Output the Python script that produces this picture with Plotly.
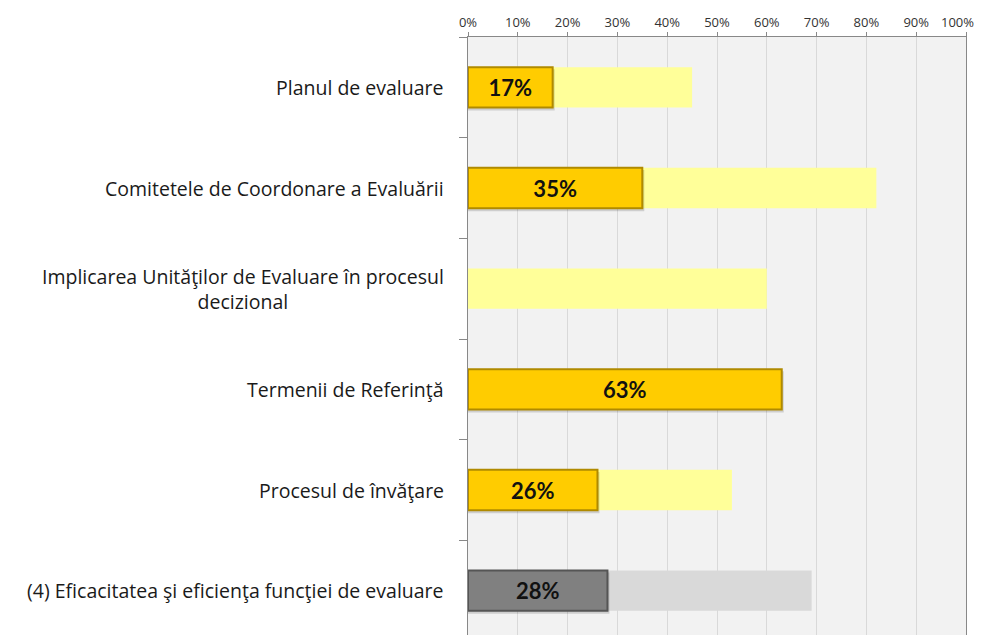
import plotly.graph_objects as go

categories = [
    "Planul de evaluare",
    "Comitetele de Coordonare a Evaluării",
    "Implicarea Unităţilor de Evaluare în procesul<br>decizional",
    "Termenii de Referinţă",
    "Procesul de învăţare",
    "(4) Eficacitatea şi eficienţa funcţiei de evaluare",
]
target_values = [0.45, 0.82, 0.60, None, 0.53, 0.69]
actual_values = [0.17, 0.35, None, 0.63, 0.26, 0.28]
x_ticks = [i / 10 for i in range(11)]
x_tick_labels = [f"{i*10}%" for i in range(11)]

bg_colors = ["#FFFF99"] * 5 + ["#D9D9D9"]
fg_colors = ["#FFCC00"] * 5 + ["#808080"]
fg_line = ["#B08A00"] * 5 + ["#555555"]

tick_font = dict(family="Open Sans", size=13, color="#333333")

fig = go.Figure()
fig.add_trace(go.Bar(
    y=categories, x=target_values, orientation="h",
    marker=dict(color=bg_colors, line=dict(width=0)),
    width=0.4, hoverinfo="skip", showlegend=False,
))
# soft shadow
fig.add_trace(go.Bar(
    y=categories, x=[v + 0.004 if v is not None else None for v in actual_values],
    orientation="h",
    marker=dict(color="rgba(0,0,0,0.15)", line=dict(width=0)),
    width=0.41, offset=-0.18, hoverinfo="skip", showlegend=False,
))
fig.add_trace(go.Bar(
    y=categories, x=actual_values, orientation="h",
    marker=dict(color=fg_colors, line=dict(color=fg_line, width=2)),
    width=0.4,
    text=[f"{round(v*100)}%" if v is not None else "" for v in actual_values],
    textposition="inside", insidetextanchor="middle",
    textfont=dict(family="Lato", size=22, color="#111111", weight="bold"),
    hoverinfo="skip", showlegend=False,
))

for cat in categories:
    fig.add_annotation(
        x=0, xref="paper", y=cat, yref="y", text=cat,
        xanchor="right", yanchor="middle", xshift=-22, align="center",
        showarrow=False,
        font=dict(family="Open Sans", size=19.5, color="#1a1a1a"),
    )

# last top tick label placed as annotation so it stays inside the page
fig.add_annotation(
    x=x_ticks[-1], xref="x", y=1, yref="paper", text=x_tick_labels[-1],
    xanchor="right", yanchor="middle", xshift=10, yshift=15,
    showarrow=False, font=tick_font,
)

fig.update_layout(
    width=978, height=633,
    margin=dict(l=460, r=20, t=29, b=0),
    paper_bgcolor="white", plot_bgcolor="#F2F2F2",
    barmode="overlay", bargap=0.6,
    xaxis=dict(
        side="top", range=[0, 1], tickvals=x_ticks,
        ticktext=x_tick_labels[:-1] + [""],
        showgrid=True, gridcolor="#D9D9D9", gridwidth=1,
        ticks="outside", ticklen=4, tickcolor="#888888",
        showline=True, linecolor="#888888", linewidth=1,
        tickfont=tick_font,
        zeroline=False, fixedrange=True, automargin=False,
    ),
    yaxis=dict(
        autorange="reversed", showticklabels=False,
        tickson="boundaries", ticks="outside", ticklen=8, tickcolor="#888888",
        showline=True, linecolor="#888888", linewidth=1, mirror=True,
        showgrid=False, fixedrange=True, automargin=False,
    ),
)

fig.write_html("out.html")
